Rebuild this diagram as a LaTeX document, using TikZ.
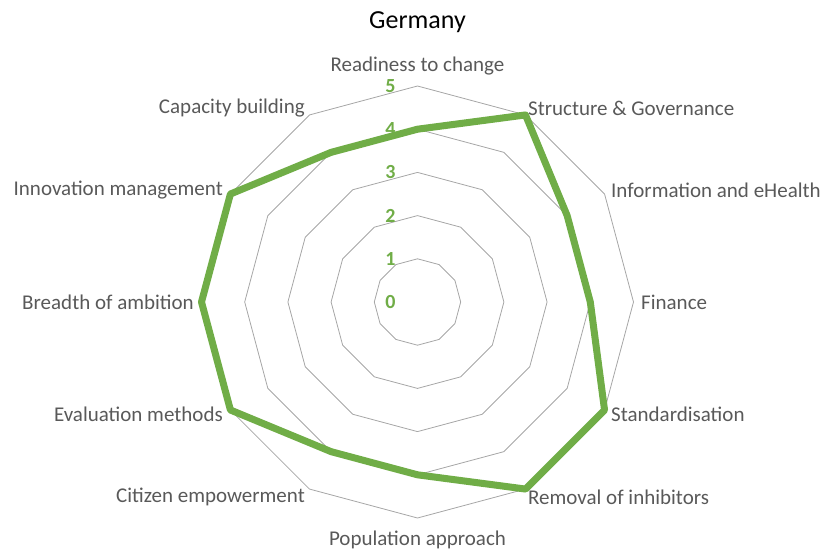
\documentclass[tikz,border=0pt]{standalone}
\usepackage{fontspec}
\setmainfont{Carlito}
\definecolor{radargreen}{HTML}{70AD47}
\definecolor{gridgray}{HTML}{A6A6A6}
\definecolor{labelgray}{HTML}{595959}
\begin{document}
\begin{tikzpicture}[x=1pt,y=1pt,line join=round,line cap=round,
 axislabel/.style={font=\fontsize{21}{24}\selectfont,text=labelgray,inner sep=0pt},
 valuelabel/.style={font=\fontsize{20}{24}\selectfont\bfseries,text=radargreen,inner sep=0pt}]
 \def\R{43.2}
 \useasboundingbox (-417.5,-248) rectangle (405.5,302);
 \node (title) at (0,280) {\fontsize{26}{30}\selectfont Germany};
 % grid
 \foreach \k in {1,...,5}
  \draw[gridgray,line width=0.8pt] (90:\k*\R) \foreach \i in {1,...,11}{ -- (90-30*\i:\k*\R)} -- cycle;
 % scale
 \foreach \k in {0,...,5}
  \node[valuelabel] (v\k) at (-27,\k*\R) {\k};
 % data
 \foreach[count=\i from 0] \v in {4,5,4,4,5,5,4,4,5,5,5,4}
  \coordinate (d\i) at (90-30*\i:\v*\R);
 \draw[radargreen,line width=7pt] (d0)--(d1)--(d2)--(d3)--(d4)--(d5)--(d6)--(d7)--(d8)--(d9)--(d10)--(d11)--cycle;
 % axis labels
 \node[axislabel] (l0) at (0,236) {Readiness to change};
 \node[axislabel,anchor=west] (l1) at (110.5,194) {Structure \& Governance};
 \node[axislabel,anchor=west] (l2) at (193.5,112) {Information and eHealth};
 \node[axislabel,anchor=west] (l3) at (223.5,0) {Finance};
 \node[axislabel,anchor=west] (l4) at (193.5,-112) {Standardisation};
 \node[axislabel,anchor=west] (l5) at (110.5,-195) {Removal of inhibitors};
 \node[axislabel] (l6) at (0,-238) {Population approach};
 \node[axislabel,anchor=east] (l7) at (-112.5,-195) {Citizen empowerment};
 \node[axislabel,anchor=east] (l8) at (-194.5,-112) {Evaluation methods};
 \node[axislabel,anchor=east] (l9) at (-223.5,0) {Breadth of ambition};
 \node[axislabel,anchor=east] (l10) at (-194.5,112) {Innovation management};
 \node[axislabel,anchor=east] (l11) at (-112.5,194) {Capacity building};
\end{tikzpicture}
\end{document}
